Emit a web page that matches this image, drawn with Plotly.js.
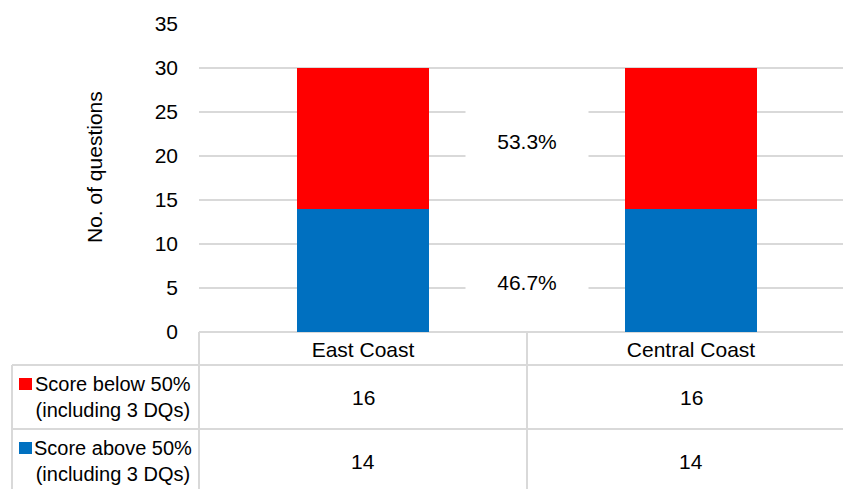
<!DOCTYPE html>
<html>
<head>
<meta charset="utf-8">
<script src="https://cdn.plot.ly/plotly-3.0.1.min.js"></script>
<style>html,body{margin:0;padding:0;background:#fff;}#chart{width:843px;height:489px;}</style>
</head>
<body>
<div id="chart"></div>
<script>
// ---- data ----
const categories = ['East Coast', 'Central Coast'];
const seriesBelowName = 'Score below 50%<br>(including 3 DQs)';
const seriesAboveName = 'Score above 50%<br>(including 3 DQs)';
const scoreBelow = [16, 16];
const scoreAbove = [14, 14];
const yTickVals = [0, 5, 10, 15, 20, 25, 30, 35];
const yAxisTitle = 'No. of questions';

// ---- styles / layout helpers ----
const RED = '#FF0000', BLUE = '#0070C0', GRID = '#d9d9d9', TXT = '#000000';
const FONT = 'Liberation Sans, Arial, sans-serif';
const W = 843, H = 489;
const L = 199, R = 0, T = 24, B = 157;
const pw = W - L - R, ph = H - T - B;
const px = v => (v - L) / pw;          // pixel x -> paper x
const py = v => (H - B - v) / ph;      // pixel y -> paper y

const total = scoreBelow.map((v, i) => v + scoreAbove[i]);
const pctBelow = (scoreBelow[0] / total[0] * 100).toFixed(1) + '%';
const pctAbove = (scoreAbove[0] / total[0] * 100).toFixed(1) + '%';

const traces = [
  {type: 'bar', x: categories, y: scoreAbove, name: seriesAboveName, marker: {color: BLUE}, width: 0.4, hoverinfo: 'none'},
  {type: 'bar', x: categories, y: scoreBelow, name: seriesBelowName, marker: {color: RED}, width: 0.4, hoverinfo: 'none'}
];

const shapes = [];
const line = (x0, y0, x1, y1) => shapes.push({type: 'line', xref: 'paper', yref: 'paper', x0: px(x0), y0: py(y0), x1: px(x1), y1: py(y1), line: {color: GRID, width: 2}});
// table grid
line(199, 332, 199, 489);
line(527, 332, 527, 489);
line(12, 365, 12, 489);
line(12, 365, 843, 365);
line(12, 429, 843, 429);
// legend keys
shapes.push({type: 'rect', xref: 'paper', yref: 'paper', x0: px(19), x1: px(32), y0: py(378), y1: py(390), fillcolor: RED, line: {width: 0}});
shapes.push({type: 'rect', xref: 'paper', yref: 'paper', x0: px(19), x1: px(32), y0: py(442), y1: py(454), fillcolor: BLUE, line: {width: 0}});

const annotations = [];
const f = {family: FONT, size: 21, color: TXT};
const fHead = {family: FONT, size: 20, color: TXT};
// row headers
annotations.push({xref: 'paper', yref: 'paper', x: px(113), y: py(397), text: seriesBelowName, showarrow: false, font: fHead, align: 'center', xanchor: 'center', yanchor: 'middle'});
annotations.push({xref: 'paper', yref: 'paper', x: px(113), y: py(461), text: seriesAboveName, showarrow: false, font: fHead, align: 'center', xanchor: 'center', yanchor: 'middle'});
// table values
categories.forEach((c, i) => {
  annotations.push({xref: 'x', yref: 'paper', x: c, y: py(397), text: String(scoreBelow[i]), showarrow: false, font: f, xanchor: 'center', yanchor: 'middle'});
  annotations.push({xref: 'x', yref: 'paper', x: c, y: py(461), text: String(scoreAbove[i]), showarrow: false, font: f, xanchor: 'center', yanchor: 'middle'});
});
// percentage labels
annotations.push({xref: 'x', yref: 'y', x: 0.5, y: 21.7, text: pctBelow, showarrow: false, font: f, bgcolor: '#ffffff', width: 120, height: 64, xanchor: 'center', yanchor: 'middle'});
annotations.push({xref: 'x', yref: 'y', x: 0.5, y: 5.7, text: pctAbove, showarrow: false, font: f, bgcolor: '#ffffff', width: 120, height: 64, xanchor: 'center', yanchor: 'middle'});
// y title
annotations.push({xref: 'paper', yref: 'paper', x: px(94), y: py(167), text: yAxisTitle, textangle: -90, showarrow: false, font: f, xanchor: 'center', yanchor: 'middle'});

const layout = {
  width: W, height: H,
  margin: {l: L, r: R, t: T, b: B, pad: 0},
  paper_bgcolor: '#fff', plot_bgcolor: '#fff',
  barmode: 'stack', showlegend: false,
  font: f,
  xaxis: {type: 'category', range: [-0.5, -0.5 + pw / 328], showgrid: false, zeroline: false, showline: false, ticks: '', tickfont: f, ticklabelstandoff: 3, fixedrange: true},
  yaxis: {range: [0, 35], tickvals: yTickVals, showgrid: true, gridcolor: GRID, gridwidth: 2, zeroline: true, zerolinecolor: GRID, zerolinewidth: 2, showline: false, ticks: '', tickfont: f, ticklabelstandoff: 20, fixedrange: true},
  shapes: shapes,
  annotations: annotations
};

Plotly.newPlot('chart', traces, layout, {staticPlot: true, displayModeBar: false});
</script>
</body>
</html>
